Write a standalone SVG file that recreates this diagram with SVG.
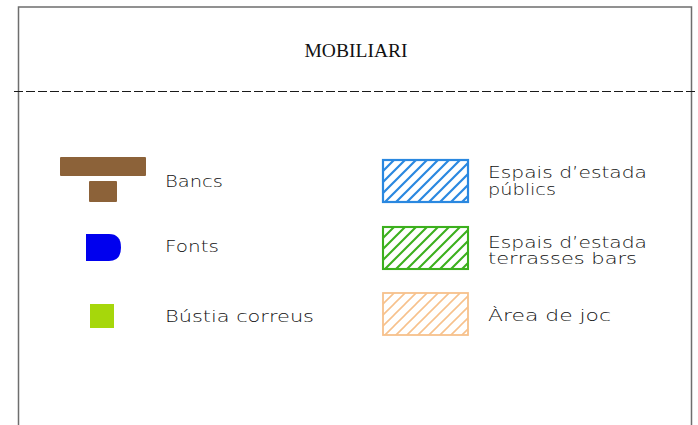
<svg xmlns="http://www.w3.org/2000/svg" width="698" height="425" viewBox="0 0 698 425">
  <style>
    .frame { fill: none; stroke: #6e6e6e; stroke-width: 1.5; }
    .dash { stroke: #1a1a1a; stroke-width: 1; stroke-dasharray: 9 3; }
    .title { font-family: "Liberation Serif", serif; font-size: 19px; fill: #111; }
    .lbl { font-family: "DejaVu Sans", "Liberation Sans", sans-serif; font-weight: 200; font-size: 16.5px; fill: #111; }
  </style>
  <defs>
    <pattern id="hBlue" patternUnits="userSpaceOnUse" width="11" height="11" x="383" y="160">
      <path d="M0,11 L11,0 M-3,3 L3,-3 M8,14 L14,8" stroke="#2a88e0" stroke-width="2.2"/>
    </pattern>
    <pattern id="hGreen" patternUnits="userSpaceOnUse" width="11" height="11" x="383" y="227">
      <path d="M0,11 L11,0 M-3,3 L3,-3 M8,14 L14,8" stroke="#3cb01e" stroke-width="2.1"/>
    </pattern>
    <pattern id="hOrange" patternUnits="userSpaceOnUse" width="11" height="11" x="383" y="293">
      <path d="M0,11 L11,0 M-3,3 L3,-3 M8,14 L14,8" stroke="#f7c18c" stroke-width="1.6"/>
    </pattern>
  </defs>

  <rect width="698" height="425" fill="#ffffff"/>

  <g id="frame">
    <path class="frame" d="M18.5,430 V7 H691.5 V430"/>
    <line class="dash" x1="14" y1="91.5" x2="698" y2="91.5"/>
    <text class="title" x="356" y="57" text-anchor="middle" textLength="103" lengthAdjust="spacingAndGlyphs">MOBILIARI</text>
  </g>

  <g id="connectors"></g>

  <g id="bancs">
    <rect x="60" y="157" width="86" height="19" rx="1" fill="#8c6239"/>
    <rect x="89" y="181" width="28" height="21" rx="1" fill="#8c6239"/>
    <text class="lbl" x="165" y="187" textLength="58" lengthAdjust="spacingAndGlyphs">Bancs</text>
  </g>

  <g id="fonts">
    <path d="M86,234 H109 Q121,234 121,247.5 Q121,261 109,261 H86 Z" fill="#0000ee"/>
    <text class="lbl" x="165" y="252" textLength="54" lengthAdjust="spacingAndGlyphs">Fonts</text>
  </g>

  <g id="bustia">
    <rect x="90" y="304" width="24" height="24" fill="#a6d70b"/>
    <text class="lbl" x="165" y="322" textLength="149" lengthAdjust="spacingAndGlyphs">Bústia correus</text>
  </g>

  <g id="espais-publics">
    <rect x="383" y="160" width="85" height="42" fill="url(#hBlue)" stroke="#2a88e0" stroke-width="2.2"/>
    <text class="lbl" x="488" y="178" textLength="159" lengthAdjust="spacingAndGlyphs">Espais d’estada</text>
    <text class="lbl" x="488" y="195" textLength="68" lengthAdjust="spacingAndGlyphs">públics</text>
  </g>

  <g id="espais-terrasses">
    <rect x="383" y="227" width="85" height="42" fill="url(#hGreen)" stroke="#3cb01e" stroke-width="2.1"/>
    <text class="lbl" x="488" y="247.5" textLength="159" lengthAdjust="spacingAndGlyphs">Espais d’estada</text>
    <text class="lbl" x="488" y="263.5" textLength="149" lengthAdjust="spacingAndGlyphs">terrasses bars</text>
  </g>

  <g id="area-joc">
    <rect x="383" y="293" width="85" height="42" fill="url(#hOrange)" stroke="#f7c18c" stroke-width="1.8"/>
    <text class="lbl" x="488" y="321" textLength="123" lengthAdjust="spacingAndGlyphs">Àrea de joc</text>
  </g>
</svg>
